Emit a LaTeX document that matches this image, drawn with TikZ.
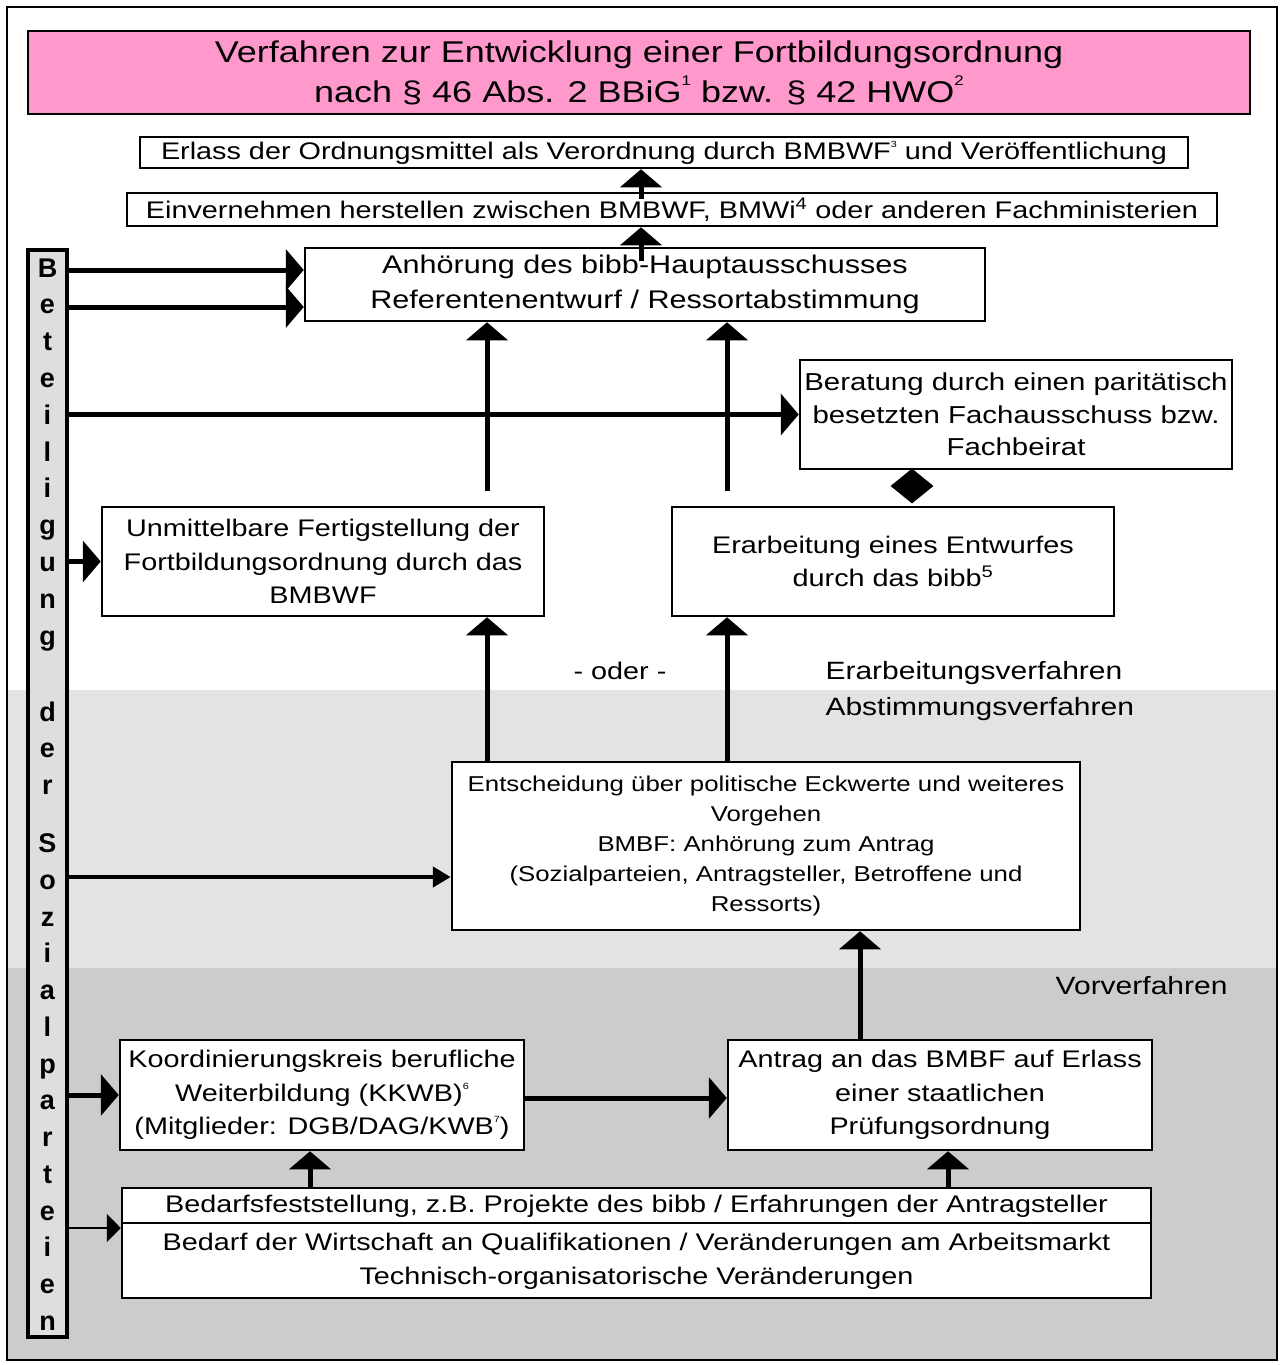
\documentclass[tikz,border=0pt]{standalone}
\usepackage{fontspec}
\setmainfont{Liberation Sans}[FakeStretch=1.2]
\newfontfamily\barfont{Liberation Sans}
\usetikzlibrary{shapes,shapes.geometric,arrows,arrows.meta,positioning,calc}

\definecolor{titlepink}{HTML}{FF99CC}
\definecolor{bandlight}{HTML}{E3E3E3}
\definecolor{banddark}{HTML}{CCCCCC}
\definecolor{barfill}{HTML}{DEDEDE}
\newcommand\tinysup[1]{\raisebox{0.5em}{\fontsize{9}{9}\selectfont #1}}
\newcommand\titlesup[1]{\raisebox{0.55em}{\fontsize{14}{14}\selectfont #1}}

\begin{document}
\begin{tikzpicture}[x = 1pt, y = -1pt, font = \fontsize{24}{33.5}\selectfont]
    \tikzset{
      box/.style = {draw, line width = 2.5pt, fill = white, align = center, inner sep = 0pt},
      letter/.style = {anchor = base, inner sep = 0pt, font = \barfont\bfseries\fontsize{27}{27}\selectfont},
      bigarrow/.style = {-{Triangle[length = 18pt, width = 41pt]}, line width = 5pt},
      midarrow/.style = {-{Triangle[length = 18pt, width = 20pt]}, line width = 4.5pt},
      thinarrow/.style = {-{Triangle[length = 14pt, width = 28pt]}, line width = 1.5pt},
    }
    \useasboundingbox (0, 0) rectangle (1284, 1365);

    % phases in the background
    \fill [bandlight] (8, 690) rectangle (1276, 968);
    \fill [banddark] (8, 968) rectangle (1276, 1359);
    \draw [line width = 2.5pt] (7, 7) rectangle (1277, 1360);

    \node [box, fill = titlepink, minimum width = 1222, minimum height = 83, font = \fontsize{30}{40}\selectfont] (title) at (639, 72.5)
      {Verfahren zur Entwicklung einer Fortbildungsordnung\\nach § 46 Abs. 2 BBiG\titlesup{1} bzw. § 42 HWO\titlesup{2}};

    \node [box, minimum width = 1048, minimum height = 31] (erlass) at (664, 152.5)
      {Erlass der Ordnungsmittel als Verordnung durch BMBWF\tinysup{3} und Veröffentlichung};
    \node [box, minimum width = 1090, minimum height = 33] (einv) at (672, 209.5)
      {Einvernehmen herstellen zwischen BMBWF, BMWi\textsuperscript{4} oder anderen Fachministerien};
    \node [box, minimum width = 680, minimum height = 73, font = \fontsize{25.5}{35}\selectfont] (anh) at (645, 284.5)
      {Anhörung des bibb-Hauptausschusses\\Referentenentwurf / Ressortabstimmung};
    \node [box, minimum width = 432, minimum height = 109, font = \fontsize{24.5}{32.5}\selectfont] (berat) at (1016, 414.5)
      {Beratung durch einen paritätisch\\besetzten Fachausschuss bzw.\\Fachbeirat};
    \node [diamond, fill = black, minimum width = 43, minimum height = 35, inner sep = 0pt] (link) at (912, 486) {};

    \node [box, minimum width = 442, minimum height = 109] (unmit) at (323, 561.5)
      {Unmittelbare Fertigstellung der\\Fortbildungsordnung durch das\\BMBWF};
    \node [box, minimum width = 442, minimum height = 109] (erarb) at (893, 561.5)
      {Erarbeitung eines Entwurfes\\durch das bibb\textsuperscript{5}};

    \node (oder) at (620, 671) {- oder -};
    \node [anchor = west, align = left, font = \fontsize{25}{36}\selectfont] (verfahren) at (822, 691)
      {Erarbeitungsverfahren\\Abstimmungsverfahren};

    \node [box, minimum width = 628, minimum height = 168, font = \fontsize{21.5}{30}\selectfont] (entsch) at (766, 846)
      {Entscheidung über politische Eckwerte und weiteres\\Vorgehen\\BMBF: Anhörung zum Antrag\\(Sozialparteien, Antragsteller, Betroffene und\\Ressorts)};

    \node [anchor = east, font = \fontsize{25}{30}\selectfont] (vorv) at (1231, 986) {Vorverfahren};

    \node [box, minimum width = 404, minimum height = 110] (koord) at (322, 1095)
      {Koordinierungskreis berufliche\\Weiterbildung (KKWB)\tinysup{6}\\(Mitglieder: DGB/DAG/KWB\tinysup{7})};
    \node [box, minimum width = 424, minimum height = 110] (antrag) at (940, 1095)
      {Antrag an das BMBF auf Erlass\\einer staatlichen\\Prüfungsordnung};

    \node [box, minimum width = 1029, minimum height = 110] (bedarf) at (636.5, 1243) {};
    \draw [line width = 2.5pt] (bedarf.west |- 0,1223) -- (bedarf.east |- 0,1223);
    \node (need) at (636.5, 1206)
      {Bedarfsfeststellung, z.B. Projekte des bibb / Erfahrungen der Antragsteller};
    \node [align = center] (change) at (636.5, 1261.5)
      {Bedarf der Wirtschaft an Qualifikationen / Veränderungen am Arbeitsmarkt\\Technisch-organisatorische Veränderungen};

    % Beteiligung der Sozialparteien
    \node [draw, line width = 4pt, fill = barfill, minimum width = 39, minimum height = 1087, inner sep = 0pt] (bar) at (47.5, 793.5) {};
    \foreach \l [count = \i from 0] in {B,e,t,e,i,l,i,g,u,n,g}
      \node [letter] (bet\i) at (47.5, 277 + 36.8 * \i) {\l};
    \foreach \l [count = \i from 0] in {d,e,r}
      \node [letter] (der\i) at (47.5, 721 + 36.8 * \i) {\l};
    \foreach \l [count = \i from 0] in {S,o,z,i,a,l,p,a,r,t,e,i,e,n}
      \node [letter] (soz\i) at (47.5, 852.5 + 36.75 * \i) {\l};

    \draw [bigarrow] (bar.east |- 0,270) -- (anh.west |- 0,270);
    \draw [bigarrow] (bar.east |- 0,307) -- (anh.west |- 0,307);
    \draw [bigarrow] (bar.east |- berat.west) -- (berat.west);
    \draw [bigarrow] (bar.east |- unmit.west) -- (unmit.west);
    \draw [midarrow] (bar.east |- 0,877) -- (entsch.west |- 0,877);
    \draw [bigarrow] (bar.east |- koord.west) -- (koord.west);
    \draw [thinarrow] (bar.east |- 0,1228) -- (bedarf.west |- 0,1228);

    \draw [bigarrow] ($(641,0 |- einv.north) + (0, 7)$) -- (641,0 |- erlass.south);
    \draw [bigarrow] ($(641,0 |- anh.north) + (0, 14)$) -- (641,0 |- einv.south);
    \draw [bigarrow] ($(487,0 |- unmit.north) + (0, -15)$) -- (487,0 |- anh.south);
    \draw [bigarrow] ($(727,0 |- erarb.north) + (0, -15)$) -- (727,0 |- anh.south);
    \draw [bigarrow] (487,0 |- entsch.north) -- (487,0 |- unmit.south);
    \draw [bigarrow] (727,0 |- entsch.north) -- (727,0 |- erarb.south);
    \draw [bigarrow] (860,0 |- antrag.north) -- (860,0 |- entsch.south);
    \draw [bigarrow] (koord.east |- 0,1098) -- (antrag.west |- 0,1098);
    \draw [bigarrow] (310,0 |- bedarf.north) -- (310,0 |- koord.south);
    \draw [bigarrow] (948,0 |- bedarf.north) -- (948,0 |- antrag.south);
  \end{tikzpicture}
\end{document}
